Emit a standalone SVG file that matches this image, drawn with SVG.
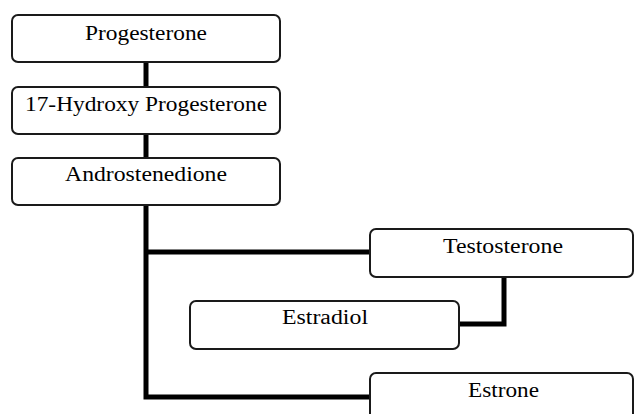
<svg xmlns="http://www.w3.org/2000/svg" width="635" height="414" viewBox="0 0 635 414">
<style>
.box{fill:#fff;stroke:#1a1a1a;stroke-width:2}
.t{font-family:"Liberation Serif","Times New Roman",serif;font-size:20.5px;fill:#000;text-anchor:middle}
.c{fill:none;stroke:#000;stroke-width:5}
</style>
<rect width="635" height="414" fill="#fff"/>
<g id="connectors">
<line class="c" x1="146" y1="62" x2="146" y2="87"/>
<line class="c" x1="146" y1="134" x2="146" y2="158"/>
<polyline class="c" points="146,205 146,397 370,397"/>
<line class="c" x1="146" y1="252" x2="370" y2="252"/>
<polyline class="c" points="504,277 504,324 459,324"/>
</g>
<g id="progesterone"><rect class="box" x="12" y="15" width="268" height="47" rx="6"/><text class="t" x="146" y="39.5" textLength="122" lengthAdjust="spacingAndGlyphs">Progesterone</text></g>
<g id="hydroxy"><rect class="box" x="12" y="87" width="268" height="47" rx="6"/><text class="t" x="146" y="110.5" textLength="242" lengthAdjust="spacingAndGlyphs">17-Hydroxy Progesterone</text></g>
<g id="androstenedione"><rect class="box" x="12" y="158" width="268" height="47" rx="6"/><text class="t" x="146" y="180.5" textLength="162" lengthAdjust="spacingAndGlyphs">Androstenedione</text></g>
<g id="testosterone"><rect class="box" x="370" y="229" width="263" height="48" rx="6"/><text class="t" x="503" y="253" textLength="120" lengthAdjust="spacingAndGlyphs">Testosterone</text></g>
<g id="estradiol"><rect class="box" x="190" y="301" width="269" height="48" rx="6"/><text class="t" x="325" y="324" textLength="86" lengthAdjust="spacingAndGlyphs">Estradiol</text></g>
<g id="estrone"><rect class="box" x="370" y="373" width="263" height="50" rx="6"/><text class="t" x="503.5" y="397" textLength="71" lengthAdjust="spacingAndGlyphs">Estrone</text></g>
</svg>
